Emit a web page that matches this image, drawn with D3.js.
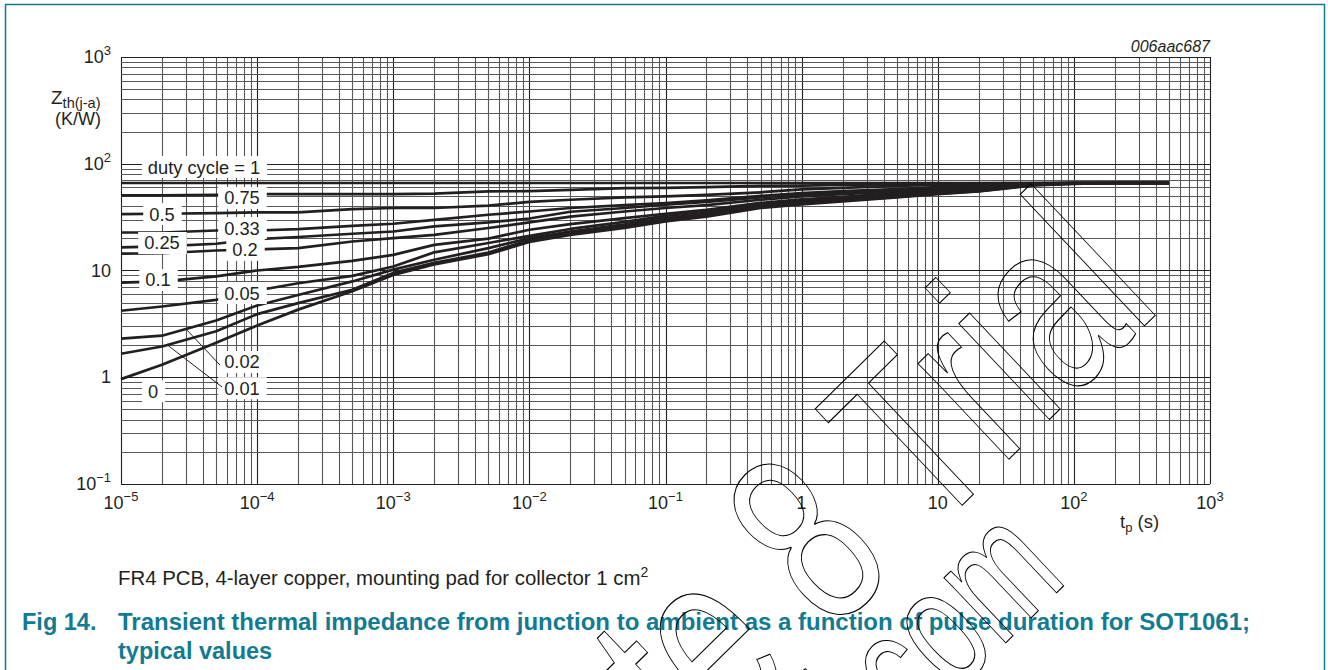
<html>
<head>
<script src="https://d3js.org/d3.v7.min.js"></script>
<style>
  body { margin: 0; background: #fff; }
  text { font-family: "Liberation Sans", Arial, sans-serif; }
</style>
</head>
<body>
<svg id="svg" width="1328" height="670"></svg>
<script>
// pulse duration tp (s) and Zth(j-a) (K/W) per duty cycle
var tp = [1e-5, 2e-5, 5e-5, 1e-4, 2e-4, 5e-4, 1e-3, 2e-3, 5e-3, 1e-2, 2e-2, 5e-2,
          1e-1, 2e-1, 5e-1, 1, 2, 5, 10, 20, 50, 100, 200, 500];
var zDuty1    = [66, 66, 66, 66, 66, 66, 66, 66, 66, 66, 66, 66, 66, 66, 66, 66, 66, 66, 66, 66, 66, 66, 66, 66];
var zDuty075  = [50.5, 50.5, 51, 52, 52, 52, 52, 52.5, 55, 55.5, 57, 59, 59.5, 60.5, 62, 62.5, 63.5, 64.5, 65, 65.5, 66, 66, 66, 66];
var zDuty05   = [33.8, 34, 34.5, 35, 35, 37.5, 38.5, 38.5, 40.5, 44, 46, 48.5, 49.5, 51, 54, 57.5, 59.5, 62, 63.5, 64.5, 65.5, 66, 66, 66];
var zDuty033  = [22.7, 22.7, 23.7, 23.7, 24.4, 26.2, 27.4, 29.8, 33.3, 35.7, 38.5, 41, 42.9, 45.5, 50, 53, 55.5, 58, 60.5, 63, 65.5, 66, 66, 66];
var zDuty025  = [16.5, 16.8, 17.8, 19.7, 20.6, 22.1, 23.2, 25.9, 28.2, 30.7, 35.5, 38.5, 41.3, 44, 48.5, 51.5, 54, 57, 59.5, 62, 65.3, 66, 66, 66];
var zDuty02   = [14.4, 14.5, 15.4, 15.8, 16.2, 18.7, 20.1, 21.6, 25, 28.2, 32, 35.7, 38.5, 41, 46, 49.4, 52, 55, 58, 61, 65, 66, 66, 66];
var zDuty01   = [7.7, 7.9, 8.8, 10, 10.8, 12.3, 14, 17.4, 19.9, 24.1, 27.2, 31, 34, 37, 43, 46.5, 49, 53, 56, 59.5, 64.5, 65.8, 66, 66];
var zDuty005  = [4.2, 4.6, 5.3, 6.5, 7.6, 8.9, 10.9, 14.8, 18.1, 21.1, 24.5, 28.5, 32.5, 35.5, 41.5, 45, 47.5, 51.5, 54.5, 58, 64, 65.8, 66, 66];
var zDuty002  = [2.3, 2.45, 3.4, 4.7, 5.9, 7.9, 10.2, 12.6, 16.2, 20.1, 23.2, 27, 31, 34, 40.5, 43.5, 46, 50, 53.5, 56.5, 63.5, 65.5, 66, 66];
var zDuty001  = [1.66, 1.94, 2.7, 3.9, 4.95, 6.6, 9.5, 11.8, 14.7, 19.3, 22.5, 26, 30, 33, 39.5, 42.5, 45, 49, 52.5, 55.5, 63, 65.2, 66, 66];
var zDuty0    = [0.96, 1.31, 2.1, 3.05, 4.3, 6.4, 9.1, 11.4, 14.2, 18.5, 21.6, 25, 28.8, 32, 38.5, 41.5, 44.3, 48.4, 52, 55, 62.6, 64.9, 66, 66];
var curves = [zDuty1, zDuty075, zDuty05, zDuty033, zDuty025, zDuty02, zDuty01, zDuty005, zDuty002, zDuty001, zDuty0];

// curve labels: text and the (tp, Zth) point they sit on
var labelText = ["duty cycle = 1", "0.75", "0.5", "0.33", "0.25", "0.2", "0.1", "0.05", "0.02", "0.01", "0"];
var labelTp   = [4.07e-5, 7.74e-5, 2.0e-5, 7.74e-5, 2.0e-5, 8.15e-5, 1.87e-5, 7.74e-5, 7.74e-5, 7.74e-5, 1.72e-5];
var labelZ    = [93.2, 47.8, 33.8, 25.0, 18.1, 15.6, 8.15, 6.15, 1.39, 0.79, 0.74];

// leader lines for 0.02 and 0.01: from curve point to label
var leaderFrom = [[3.06e-5, 2.76], [2.21e-5, 1.99]];
var leaderTo   = [[5.34e-5, 1.30], [5.53e-5, 0.81]];

var xDecades = [-5, -4, -3, -2, -1, 0, 1, 2, 3];
var yDecades = [-1, 0, 1, 2, 3];

var svg = d3.select("svg");
var teal = "#127b91";
var ink = "#231f20";

var x = d3.scaleLog().domain([1e-5, 1e3]).range([121, 1210]);
var y = d3.scaleLog().domain([0.1, 1e3]).range([484, 57]);

function isMajor(v) {
    var l = Math.log10(v);
    return Math.abs(l - Math.round(l)) < 1e-9;
}

// page frame
svg.append("rect").attr("x", 5.5).attr("y", 4.5).attr("width", 1319).attr("height", 700)
    .attr("fill", "none").attr("stroke", teal).attr("stroke-width", 1.5);

// grid
var grid = svg.append("g");
grid.selectAll(".vx").data(x.ticks()).enter().append("line")
    .attr("x1", function(d){ return Math.round(x(d)) + 0.5; })
    .attr("x2", function(d){ return Math.round(x(d)) + 0.5; })
    .attr("y1", y(1e3)).attr("y2", y(0.1))
    .attr("stroke", function(d){ return isMajor(d) ? ink : "#585858"; })
    .attr("stroke-width", 1.1);
grid.selectAll(".hy").data(y.ticks()).enter().append("line")
    .attr("y1", function(d){ return Math.round(y(d)) + 0.5; })
    .attr("y2", function(d){ return Math.round(y(d)) + 0.5; })
    .attr("x1", x(1e-5)).attr("x2", x(1e3))
    .attr("stroke", function(d){ return isMajor(d) ? ink : "#585858"; })
    .attr("stroke-width", 1.1);

// curves
var line = d3.line()
    .x(function(d, i){ return x(tp[i]); })
    .y(function(d){ return y(d); });
svg.append("g").selectAll("path").data(curves).enter().append("path")
    .attr("d", line)
    .attr("fill", "none")
    .attr("stroke", ink)
    .attr("stroke-width", 2.7)
    .attr("stroke-linejoin", "round");

// curve labels on white boxes
var lab = svg.append("g");
labelText.forEach(function(t, i) {
    var cx = x(labelTp[i]), cy = y(labelZ[i]);
    var box = lab.append("rect");
    var txt = lab.append("text")
        .attr("x", cx).attr("y", cy + 6.5)
        .attr("text-anchor", "middle")
        .attr("font-size", 18.3)
        .attr("fill", ink)
        .text(t);
    var w = txt.node().getComputedTextLength();
    box.attr("x", cx - w / 2 - 6).attr("y", cy - 11)
        .attr("width", w + 13).attr("height", 22)
        .attr("fill", "#fff");
});
leaderFrom.forEach(function(p, i) {
    lab.append("line")
        .attr("x1", x(p[0])).attr("y1", y(p[1]))
        .attr("x2", x(leaderTo[i][0])).attr("y2", y(leaderTo[i][1]))
        .attr("stroke", ink).attr("stroke-width", 1);
});

// tick labels with powers of ten
function powLabel(sel, e) {
    if (e === 0) { sel.text("1"); return; }
    if (e === 1) { sel.text("10"); return; }
    sel.append("tspan").text("10");
    sel.append("tspan").attr("dy", -8).attr("font-size", 13)
        .text(e < 0 ? "\u2212" + (-e) : String(e));
}
xDecades.forEach(function(e) {
    var t = svg.append("text").attr("x", x(Math.pow(10, e))).attr("y", 509)
        .attr("text-anchor", "middle").attr("font-size", 18).attr("fill", ink);
    powLabel(t, e);
});
yDecades.forEach(function(e) {
    var t = svg.append("text").attr("x", 111).attr("y", y(Math.pow(10, e)) + 6)
        .attr("text-anchor", "end").attr("font-size", 18).attr("fill", ink);
    powLabel(t, e);
});

// axis titles
var yt = svg.append("text").attr("x", 51).attr("y", 104).attr("font-size", 19).attr("fill", ink);
yt.append("tspan").text("Z");
yt.append("tspan").attr("dy", 4).attr("font-size", 14.5).text("th(j-a)");
svg.append("text").attr("x", 78).attr("y", 125).attr("text-anchor", "middle")
    .attr("font-size", 18).attr("fill", ink).text("(K/W)");

var xt = svg.append("text").attr("x", 1120).attr("y", 528).attr("font-size", 18.5).attr("fill", ink);
xt.append("tspan").text("t");
xt.append("tspan").attr("dy", 4).attr("font-size", 13).text("p");
xt.append("tspan").attr("dy", -4).text(" (s)");

svg.append("text").attr("x", 1210).attr("y", 52).attr("text-anchor", "end")
    .attr("font-size", 16).attr("font-style", "italic").attr("fill", ink).text("006aac687");

// caption and figure title
var cap = svg.append("text").attr("x", 118).attr("y", 585).attr("font-size", 20.4).attr("fill", ink);
cap.append("tspan").text("FR4 PCB, 4-layer copper, mounting pad for collector 1 cm");
cap.append("tspan").attr("dy", -8).attr("font-size", 14).text("2");

svg.append("text").attr("x", 22).attr("y", 630).attr("font-size", 23.5).attr("font-weight", "bold")
    .attr("fill", teal).text("Fig 14.");
svg.append("text").attr("x", 118).attr("y", 630).attr("font-size", 23.5).attr("font-weight", "bold")
    .attr("fill", teal).attr("textLength", 1132).attr("lengthAdjust", "spacingAndGlyphs")
    .text("Transient thermal impedance from junction to ambient as a function of pulse duration for SOT1061;");
svg.append("text").attr("x", 118).attr("y", 659).attr("font-size", 23.5).attr("font-weight", "bold")
    .attr("fill", teal).text("typical values");

// outlined watermark stamped over the page
var wm = svg.append("g").attr("transform", "matrix(1.221,-1.202,1.715,1.816,926,541)");
wm.append("text").attr("x", 194.4).attr("y", 0).attr("text-anchor", "end")
    .attr("font-size", 100).attr("fill", "none").attr("stroke", "#000")
    .attr("stroke-width", 1).attr("vector-effect", "non-scaling-stroke")
    .text("Create 8 Trial");
wm.append("text").attr("x", 45).attr("y", 51.5).attr("text-anchor", "end")
    .attr("font-size", 68).attr("fill", "none").attr("stroke", "#000")
    .attr("stroke-width", 1).attr("vector-effect", "non-scaling-stroke")
    .text("www.nitropdf.com");
</script>
</body>
</html>
